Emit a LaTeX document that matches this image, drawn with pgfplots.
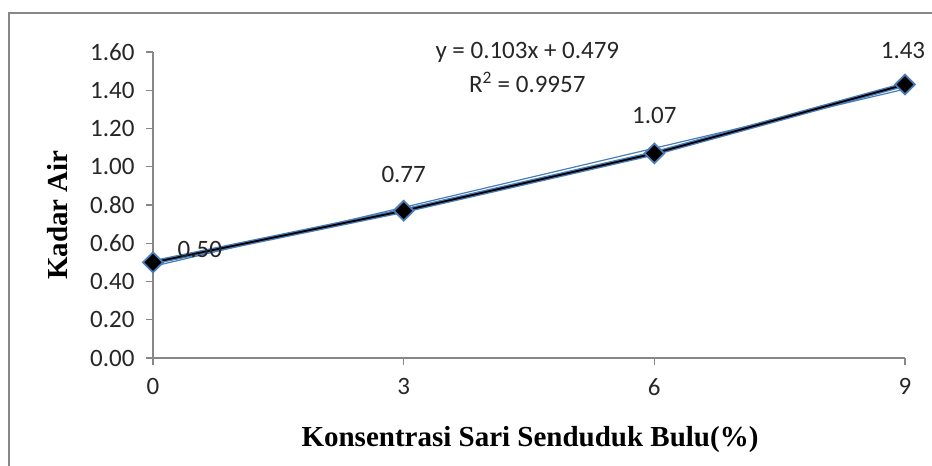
\documentclass[border=0pt]{standalone}
\usepackage{pgfplots}
\pgfplotsset{compat=1.18}
\usepackage{fontspec}
\setmainfont{Carlito}
\newfontfamily\tnr{Liberation Serif}
\definecolor{xlblue}{HTML}{4A7EBB}
\definecolor{axgray}{HTML}{878787}
\begin{document}
\begin{tikzpicture}
\useasboundingbox (0pt,0pt) rectangle (932pt,466pt);
\draw[axgray, line width=1.6pt] (9pt,0pt) -- (9pt,453pt) -- (932pt,453pt);
\begin{axis}[
  at={(153pt,108pt)}, anchor=south west,
  width=752pt, height=306pt, scale only axis,
  xmin=0, xmax=9, ymin=0, ymax=1.6,
  axis x line*=bottom, axis y line*=left,
  axis line style={axgray, line width=1.2pt, -},
  xtick={0,3,6,9},
  ytick={0,0.2,0.4,0.6,0.8,1.0,1.2,1.4,1.6},
  tick align=outside, major tick length=7pt,
  tick style={axgray, line width=1.2pt},
  /pgf/number format/assume math mode=true,
  ticklabel style={font=\fontsize{25}{30}\selectfont, text=black!85},
  yticklabel style={xshift=-8pt, /pgf/number format/fixed, /pgf/number format/fixed zerofill, /pgf/number format/precision=2},
  xticklabel style={yshift=-10pt},
  clip=false,
]
\addplot[xlblue, line width=1.2pt] coordinates {(0,0.479) (9,1.406)};
\addplot[xlblue, line width=4.5pt, mark=none] coordinates {(0,0.50) (3,0.77) (6,1.07) (9,1.43)};
\addplot[black, line width=1.8pt, mark=square*, mark size=7pt,
  mark options={rotate=45, fill=black, draw=xlblue, line width=1.8pt}]
  coordinates {(0,0.50) (3,0.77) (6,1.07) (9,1.43)};
\begin{scope}[every node/.style={font=\fontsize{25}{30}\selectfont, text=black!85}]
\node at (axis cs:0.56,0.565) {0.50};
\node at (axis cs:3.0,0.957) {0.77};
\node at (axis cs:6.0,1.27) {1.07};
\node at (axis cs:8.976,1.61) {1.43};
\node at (axis cs:4.48,1.60) {y = 0.103x + 0.479};
\node at (axis cs:4.48,1.443) {R\textsuperscript{2} = 0.9957};
\end{scope}
\end{axis}
\node[rotate=90, font=\tnr\bfseries\fontsize{29}{34}\selectfont] at (58pt,251pt) {Kadar Air};
\node[font=\tnr\bfseries\fontsize{29}{34}\selectfont] at (530pt,26pt) {Konsentrasi Sari Senduduk Bulu(\%)};
\end{tikzpicture}
\end{document}
